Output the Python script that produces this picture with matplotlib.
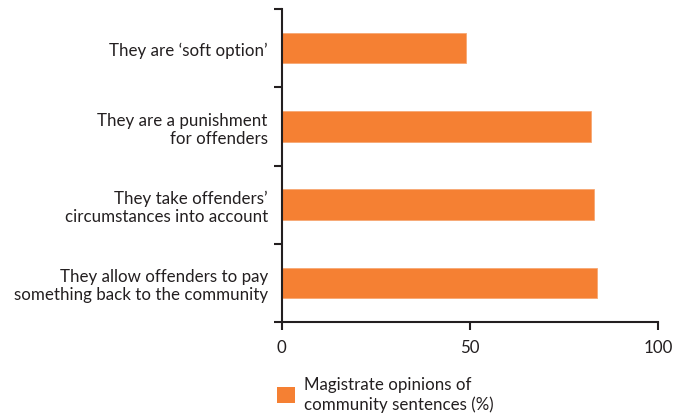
import matplotlib
matplotlib.use('Agg')
import matplotlib.pyplot as plt
from matplotlib.patches import Patch

categories = [
    "They are \u2018soft option\u2019",
    "They are a punishment\nfor offenders",
    "They take offenders\u2019\ncircumstances into account",
    "They allow offenders to pay\nsomething back to the community",
]
values = [49, 82, 83, 83.6]
x_ticks = [0, 50, 100]
legend_label = "Magistrate opinions of\ncommunity sentences (%)"

ORANGE = "#F58033"

plt.rcParams['font.family'] = ['Lato', 'DejaVu Sans']

fig = plt.figure(figsize=(6.79, 4.14), dpi=100)
ax = fig.add_axes([0.4149, 0.2198, 0.5546, 0.756])

pos = list(range(len(categories)))
ax.barh(pos, values, height=0.39, color=ORANGE, edgecolor="#F7A874", linewidth=0.6)

ax.set_xlim(0, 100)
ax.set_ylim(len(categories) - 0.5, -0.5)
ax.set_xticks(x_ticks)
ax.set_xticklabels([str(t) for t in x_ticks], fontsize=12.2, color="#231F20")

ax.set_yticks(pos)
ax.set_yticklabels(categories, fontsize=12.2, color="#231F20", ha="right",
                   linespacing=1.15)
ax.tick_params(axis="y", length=0, pad=10)
ax.set_yticks([p - 0.5 for p in pos] + [len(categories) - 0.5], minor=True)
ax.tick_params(axis="y", which="minor", length=6, width=1.5, color="#231F20")
ax.tick_params(axis="x", length=6, width=1.5, color="#231F20", pad=6)

for side in ["top", "right"]:
    ax.spines[side].set_visible(False)
for side in ["left", "bottom"]:
    ax.spines[side].set_linewidth(1.5)
    ax.spines[side].set_color("#231F20")

handle = Patch(facecolor=ORANGE, edgecolor="none")
fig.legend([handle], [legend_label], loc="upper left",
           bbox_to_anchor=(0.398, 0.105), frameon=False, fontsize=12.2,
           handlelength=1.05, handleheight=1.1, handletextpad=0.55,
           borderaxespad=0, labelcolor="#231F20", labelspacing=0.3)

fig.savefig("out.png", dpi=100)
